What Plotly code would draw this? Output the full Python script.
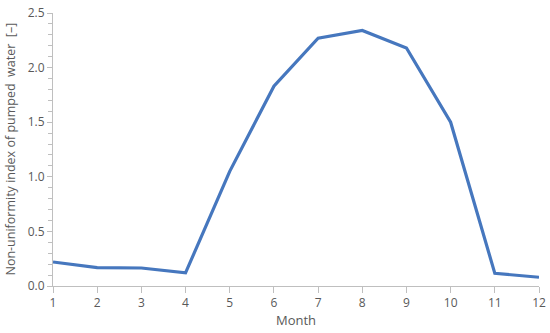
import plotly.graph_objects as go

months = [1, 2, 3, 4, 5, 6, 7, 8, 9, 10, 11, 12]
index_values = [0.22, 0.168, 0.165, 0.12, 1.05, 1.83, 2.27, 2.34, 2.18, 1.50, 0.116, 0.08]

fig = go.Figure()
fig.add_trace(go.Scatter(x=months, y=index_values, mode='lines',
                         line=dict(color='#4677BE', width=3.2)))

font_col = '#595959'
axis_col = '#BFBFBF'

fig.update_layout(
    width=550, height=333,
    margin=dict(l=53, r=11, t=13, b=47),
    plot_bgcolor='white', paper_bgcolor='white',
    showlegend=False,
    font=dict(family='Open Sans, sans-serif', size=12, color=font_col),
)

fig.update_xaxes(
    range=[1, 12], tickvals=months, showgrid=False, zeroline=False,
    showline=True, linecolor=axis_col, linewidth=1,
    ticks='outside', ticklen=6, tickcolor=axis_col,
    automargin=False, ticklabeloverflow='allow',
    title=dict(text='Month', font=dict(size=13, color=font_col), standoff=5),
    tickfont=dict(size=12, color=font_col),
)

fig.update_yaxes(
    range=[0, 2.5], dtick=0.5, tickformat='.1f', showgrid=False, zeroline=False,
    showline=True, linecolor=axis_col, linewidth=1,
    ticks='outside', ticklen=5, tickcolor=axis_col,
    minor=dict(dtick=0.1, ticks='outside', ticklen=4, tickcolor=axis_col),
    automargin=False, ticklabeloverflow='allow',
    tickfont=dict(size=12, color=font_col),
)

# y title as an annotation so it can sit closer to the left edge
fig.add_annotation(
    text='Non-uniformity index of pumped\u00a0 water\u00a0 [\u2013]',
    xref='paper', yref='paper', x=0, y=0.5, xshift=-43,
    textangle=-90, showarrow=False, xanchor='center', yanchor='middle',
    font=dict(size=12.5, color=font_col),
)

# drop the browser's default 8px body margin so the figure fills the window
fig.write_html("out.html", config={'displayModeBar': False},
               post_script="document.body.style.margin='0';")
